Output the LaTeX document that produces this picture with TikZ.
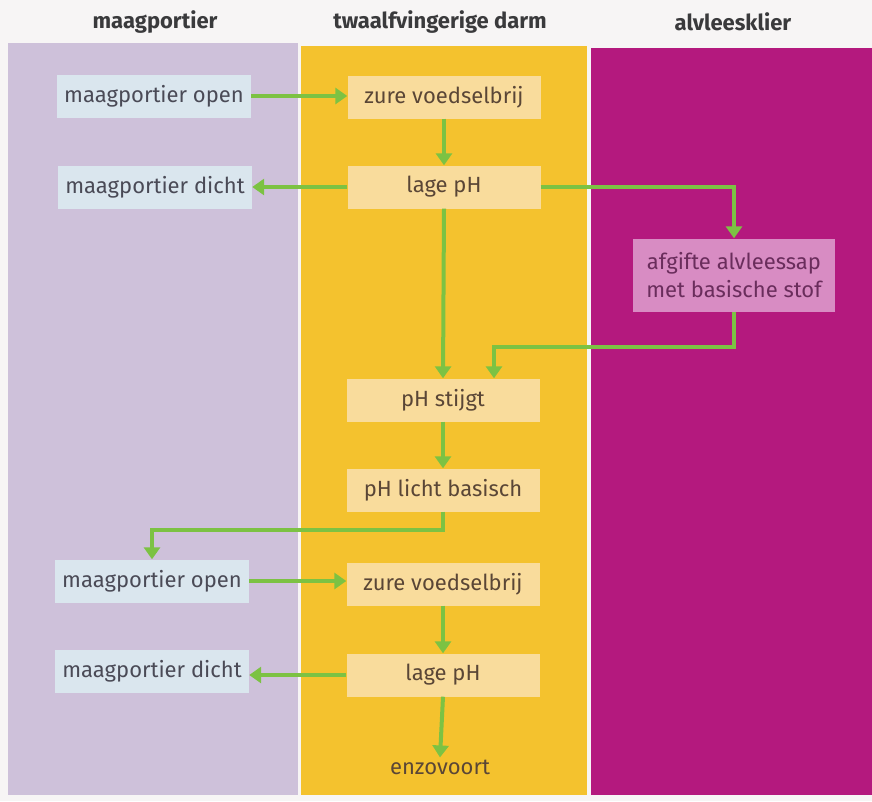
\documentclass[tikz,border=0pt]{standalone}
\usepackage{fontspec}
\setmainfont{Fira Sans}
\usetikzlibrary{arrows.meta}
\definecolor{bgc}{HTML}{F7F5F5}
\definecolor{lav}{HTML}{CEC1DA}
\definecolor{yel}{HTML}{F4C22E}
\definecolor{mag}{HTML}{B4197E}
\definecolor{bluebox}{HTML}{DAE6EE}
\definecolor{yelbox}{HTML}{F9DC9C}
\definecolor{pinkbox}{HTML}{D88CC3}
\definecolor{grn}{HTML}{7CC243}
\definecolor{txt}{HTML}{4A4A56}
\definecolor{ytxt}{HTML}{5A4636}
\definecolor{ptxt}{HTML}{6A2D5C}
\definecolor{htxt}{HTML}{3A3A3C}
\begin{document}
\begin{tikzpicture}[x=1pt,y=-1pt,
  bbox/.style={fill=bluebox,text=txt,minimum width=194pt,minimum height=43pt,inner sep=0pt,font=\fontsize{22}{24}\selectfont},
  ybox/.style={fill=yelbox,text=ytxt,minimum width=193pt,minimum height=43pt,inner sep=0pt,font=\fontsize{22}{24}\selectfont},
  pbox/.style={fill=pinkbox,text=ptxt,minimum width=202pt,minimum height=73pt,inner sep=0pt,align=center,font=\fontsize{22}{28}\selectfont},
  head/.style={text=htxt,font=\fontsize{22}{24}\selectfont\bfseries},
  arr/.style={draw=grn,line width=4pt,-{Triangle[length=12pt,width=16pt]}}]
\useasboundingbox (0,0) rectangle (872,801);
\fill[bgc] (0,0) rectangle (872,801);
\fill[lav] (8,43) rectangle (298,795);
\fill[yel] (301,46) rectangle (587,795);
\fill[mag] (591,48) rectangle (872,795);
\node[head] (h1) at (155,22) {maagportier};
\node[head] (h2) at (440,22) {twaalfvingerige darm};
\node[head] (h3) at (733,22) {alvleesklier};
\node[bbox] (MO1) at (154,96) {maagportier open};
\node[ybox] (ZV1) at (444,97) {zure voedselbrij};
\node[bbox] (MD1) at (155,187) {maagportier dicht};
\node[ybox] (LP1) at (444,187) {lage pH};
\node[pbox] (AF) at (734,275) {afgifte alvleessap\\met basische stof};
\node[ybox] (PS) at (443,400) {pH stijgt};
\node[ybox] (PL) at (443,490) {pH licht basisch};
\node[bbox] (MO2) at (152,581) {maagportier open};
\node[ybox] (ZV2) at (443,584) {zure voedselbrij};
\node[bbox] (MD2) at (152,671) {maagportier dicht};
\node[ybox] (LP2) at (443,675) {lage pH};
\node[text=ytxt,font=\fontsize{22}{24}\selectfont,inner sep=2pt] (EZ) at (440,767) {enzovoort};
\draw[arr] (MO1.east) -- (ZV1.west |- MO1.east);
\draw[arr] (ZV1.south) -- (LP1.north);
\draw[arr] (LP1.west) -- (MD1.east |- LP1.west);
\draw[arr] (LP1.east) -| (AF.north);
\draw[arr] (LP1.south) -- (PS.north);
\draw[arr] (AF.south) -- ++(0,35) -| ([xshift=51pt]PS.north);
\draw[arr] (PS.south) -- (PL.north);
\draw[arr] (PL.south) -- ++(0,18) -| (MO2.north);
\draw[arr] (MO2.east) -- (ZV2.west |- MO2.east);
\draw[arr] (ZV2.south) -- (LP2.north);
\draw[arr] (LP2.west) -- (MD2.east |- LP2.west);
\draw[arr] (LP2.south) -- (EZ.north);
\end{tikzpicture}
\end{document}
